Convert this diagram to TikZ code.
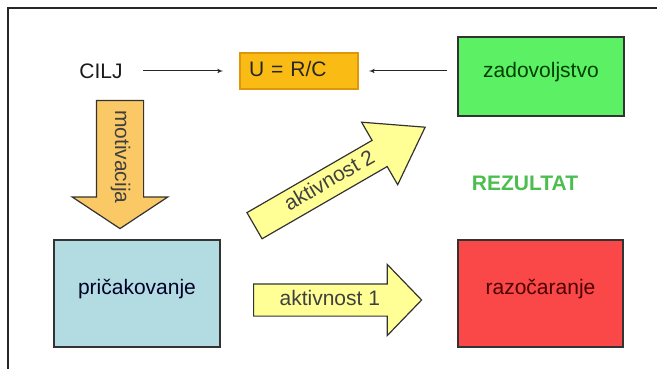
\documentclass[tikz,border=0pt]{standalone}
\usepackage{fontspec}
\setmainfont{Liberation Sans}
\usepackage{xcolor}
\usetikzlibrary{shapes}
\usetikzlibrary{arrows}
\tikzset{
  font={\fontsize{21pt}{25}\selectfont}}

\definecolor{urcfill}{RGB}{250,188,20}
\definecolor{urcline}{RGB}{222,150,10}
\definecolor{zadfill}{RGB}{92,240,100}
\definecolor{pricfill}{RGB}{178,220,226}
\definecolor{razofill}{RGB}{250,72,72}
\definecolor{aktfill}{RGB}{255,255,150}
\definecolor{motfill}{RGB}{250,200,100}
\definecolor{rezgreen}{RGB}{76,190,80}

\begin{document}
\begin{tikzpicture}[x=1pt, y=-1pt]
    \useasboundingbox (0,0) rectangle (657,369);

    \tikzset{edge/.style = {->,> = latex', line width=1pt, draw=black!85}}
    \tikzset{box/.style = {rectangle, draw=black!80, line width=1.6pt, inner sep=0pt, text depth=14pt}}
    \tikzset{bigarrow/.style = {single arrow, draw=black!80, line width=1.2pt, anchor=tail,
        text height=13pt, text depth=3pt, inner xsep=4pt, text=black!75}}

    % frame
    \draw[line width=2pt, black!85] (8,369) -- (8,8) -- (657,8);

    % vertices
    \node[text=black!90] (cilj) at (101,71) {CILJ};
    \node[box, fill=urcfill, draw=urcline, minimum height=36pt, text width=100pt, inner xsep=9pt, align=left,
        text depth=5pt, text=black!85] (urc) at (299,71) {U = R/C};
    \node[box, fill=zadfill, minimum width=166pt, minimum height=79pt, text=green!25!black] (zad) at (541,76.5) {zadovoljstvo};
    \node[text=rezgreen, font={\fontsize{21pt}{25}\selectfont\bfseries}] (rez) at (525,183) {REZULTAT};
    \node[box, fill=pricfill, minimum width=166pt, minimum height=107pt, text=black!85!blue] (pric) at (137,293.5) {pričakovanje};
    \node[box, fill=razofill, minimum width=165pt, minimum height=107pt, text=red!30!black] (razo) at (540.5,293.5) {razočaranje};

    % block arrows
    \node[bigarrow, fill=motfill, rotate=-90, minimum height=128pt, minimum width=94pt, inner ysep=15pt,
        single arrow head extend=24pt, single arrow tip angle=113] (mot) at (120,100) {motivacija};
    \node[bigarrow, fill=aktfill, minimum height=168pt, minimum width=70pt, inner ysep=7.5pt,
        single arrow head extend=19.5pt, single arrow tip angle=92] (akt1) at (253,300) {aktivnost 1};
    \node[bigarrow, fill=aktfill, rotate=30, minimum height=197pt, minimum width=70pt, inner ysep=6.5pt,
        single arrow head extend=21pt, single arrow tip angle=69] (akt2) at (254,226) {aktivnost 2};

    %edges
    \draw[edge, shorten <=17pt, shorten >=16pt] (cilj) -- (urc);
    \draw[edge, shorten <=10pt, shorten >=10pt] (zad.west |- urc) -- (urc);

\end{tikzpicture}
\end{document}
